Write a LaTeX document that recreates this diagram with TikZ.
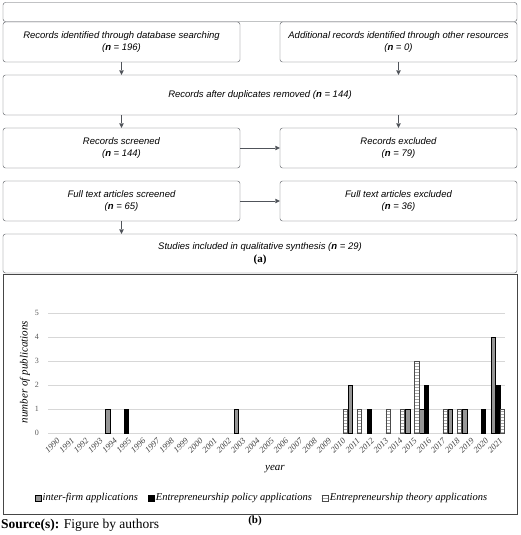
\documentclass[tikz,border=0pt]{standalone}
\usepackage{fontspec}
\setmainfont{Liberation Serif}
\setsansfont{Liberation Sans}
\usetikzlibrary{arrows.meta,positioning,patterns}
\definecolor{FlowGray}{RGB}{80,84,90}
\definecolor{ChartEdge}{RGB}{70,70,70}
\definecolor{GridGray}{RGB}{215,215,215}
\definecolor{TickGray}{RGB}{90,90,90}
\definecolor{FirmGray}{RGB}{150,150,150}
\tikzset{
  flow/box/.style={
    draw=FlowGray,
    rounded corners=2.5pt,
    fill=white,
    align=center,
    inner sep=2pt,
    font=\sffamily\itshape\fontsize{9.5}{12.5}\selectfont
  },
  flow/half/.style={flow/box, minimum width=237pt, minimum height=40pt},
  flow/full/.style={flow/box, minimum width=514pt, minimum height=40pt},
  flow/arrow/.style={-{Triangle[length=4.5pt,width=4.5pt]}, draw=FlowGray},
  chart/frame/.style={draw=ChartEdge, thick, minimum width=514pt, minimum height=240pt, inner sep=0pt},
  chart/grid/.style={draw=GridGray, line width=0.8pt},
  chart/tick/.style={font=\fontsize{8}{9}\selectfont, text=TickGray, anchor=east, inner sep=1pt},
  chart/year/.style={font=\itshape\fontsize{8.5}{9}\selectfont, text=TickGray!70!black, rotate=45, anchor=north east, inner sep=0pt},
  chart/title/.style={font=\itshape\fontsize{11}{13}\selectfont},
  chart/legend/.style={font=\itshape\fontsize{10.5}{12}\selectfont, inner sep=0.5pt},
  chart/key/.style={minimum size=6pt, inner sep=0pt},
  chart/firm/.style={fill=FirmGray, draw=black, line width=0.6pt},
  chart/policy/.style={fill=black, draw=black, line width=0.6pt},
  chart/theory/.style={pattern=horizontal lines, pattern color=gray!70, draw=gray!60!black, line width=0.5pt}
}

\begin{document}
\begin{tikzpicture}[x=1pt,y=-1pt]
  \useasboundingbox (0,0) rectangle (520,535);
  % (a) flow of records
  \node[flow/box,minimum width=514pt,minimum height=19pt] (top) at (260,12) {};
  \node[flow/half] (found) at (121.5,42) {Records identified through database searching\\(\textbf{n} = 196)};
  \node[flow/half] (other) at (398.5,42) {Additional records identified through other resources\\(\textbf{n} = 0)};
  \node[flow/full] (dupl) at (260,95) {Records after duplicates removed (\textbf{n} = 144)};
  \node[flow/half] (screen) at (121.5,148) {Records screened\\(\textbf{n} = 144)};
  \node[flow/half] (excl) at (398.5,148) {Records excluded\\(\textbf{n} = 79)};
  \node[flow/half] (full) at (121.5,201) {Full text articles screened\\(\textbf{n} = 65)};
  \node[flow/half] (fullex) at (398.5,201) {Full text articles excluded\\(\textbf{n} = 36)};
  \node[flow/box,minimum width=514pt,minimum height=39pt] (incl) at (260,253.5) {Studies included in qualitative synthesis (\textbf{n} = 29)\\[1pt]{\rmfamily\upshape\bfseries\fontsize{11}{13}\selectfont (a)}};
  \draw[flow/arrow] (found) -- (found |- dupl.north);
  \draw[flow/arrow] (other) -- (other |- dupl.north);
  \draw[flow/arrow] (screen |- dupl.south) -- (screen);
  \draw[flow/arrow] (excl |- dupl.south) -- (excl);
  \draw[flow/arrow] (screen) -- (excl);
  \draw[flow/arrow] (full) -- (fullex);
  \draw[flow/arrow] (full) -- (full |- incl.north);

  % (b) publications per year
  \node[chart/frame] (frame) at (260,394) {};
  \foreach \v in {0,...,5}{
    \draw[chart/grid] (48,{433-24*\v}) -- (505,{433-24*\v});
    \node[chart/tick] (tick\v) at (40,{433-24*\v}) {\v};
  }
  \foreach \i/\v in {4/1,13/1,21/2,25/1,26/1,28/1,29/1,31/4}{
    \draw[chart/firm] ({48.4+14.28*\i},433) rectangle +(4.4,{-24*\v});
  }
  \foreach \i/\v in {5/1,22/1,26/2,30/1,31/2}{
    \draw[chart/policy] ({48.4+14.28*\i+4.5},433) rectangle +(4.4,{-24*\v});
  }
  \foreach \i/\v in {20/1,21/1,23/1,24/1,25/3,27/1,28/1,31/1}{
    \draw[chart/theory] ({48.4+14.28*\i+9},433) rectangle +(4.4,{-24*\v});
  }
  \foreach \i in {0,...,31}{
    \pgfmathtruncatemacro{\yr}{1990+\i}
    \node[chart/year] (yr\i) at ({48+14.28*\i+8.5},437.5) {\yr};
  }
  \node[chart/title,rotate=90] (ytitle) at (25,372) {number of publications};
  \node[chart/title] (xtitle) at (275,469) {year};
  % legend
  \node[chart/key,chart/firm] (kfirm) at (38,498) {};
  \node[chart/legend,anchor=west] (lfirm) at (42,498) {inter-firm applications};
  \node[chart/key,chart/policy,right=9pt of lfirm] (kpolicy) {};
  \node[chart/legend,right=1pt of kpolicy] (lpolicy) {Entrepreneurship policy applications};
  \node[chart/key,chart/theory,right=9pt of lpolicy] (ktheory) {};
  \node[chart/legend,right=1pt of ktheory] (ltheory) {Entrepreneurship theory applications};

  \node[font=\bfseries\fontsize{11}{13}\selectfont] (blabel) at (255,521) {(b)};
  \node[anchor=west,inner sep=0pt,font=\fontsize{13.5}{15}\selectfont] (source) at (1,525) {\textbf{Source(s):} Figure by authors};
\end{tikzpicture}
\end{document}
